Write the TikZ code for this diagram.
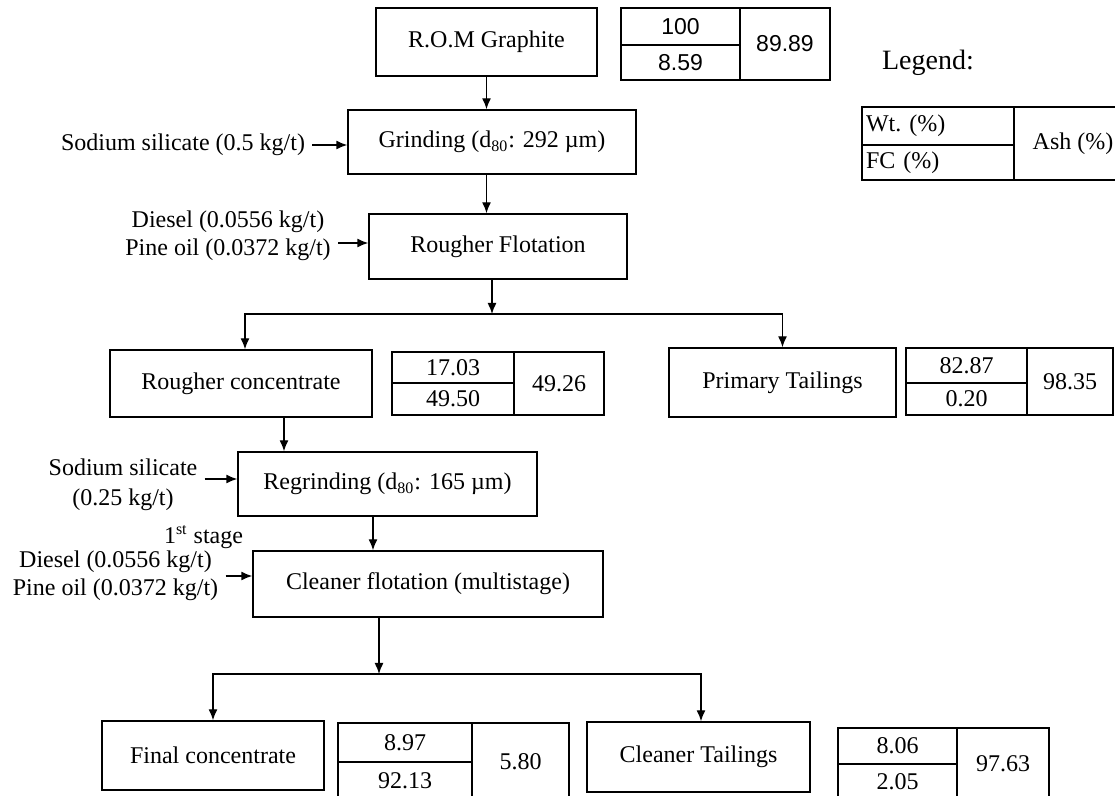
\documentclass[tikz,border=0pt]{standalone}
\usepackage{fontspec}
\setmainfont{Liberation Serif}
\newfontfamily\arialfont{Liberation Sans}
\usepackage{tikz}
\usetikzlibrary{positioning,arrows.meta}

\begin{document}
\begin{tikzpicture}[x=0.5pt, y=-0.5pt, line width=0.7pt,
  font=\fontsize{12}{14}\selectfont,
  >={Latex[length=5.5pt,width=4.5pt]},
  stepbox/.style={draw, rectangle, inner sep=0pt, align=center},
  cell/.style={draw, rectangle, inner sep=0pt, outer sep=0pt},
  numsans/.style={font=\fontsize{11.5}{14}\selectfont\arialfont}]
\useasboundingbox (0,0) rectangle (1115,796);

% Main process blocks
\node[stepbox, minimum width=110.5pt, minimum height=34pt] (rom) at (486.5,42) {R.O.M Graphite};
\node[stepbox, minimum width=144pt, minimum height=32pt] (grind) at (492,142) {Grinding (d\textsubscript{80}: 292 µm)};
\node[stepbox, minimum width=129pt, minimum height=32.5pt] (rough) at (498,246.5) {Rougher Flotation};
\node[stepbox, minimum width=131pt, minimum height=33.5pt] (rconc) at (241,383.5) {Rougher concentrate};
\node[stepbox, minimum width=113.5pt, minimum height=34.5pt] (ptail) at (782.5,382.5) {Primary Tailings};
\node[stepbox, minimum width=149.5pt, minimum height=32pt] (regr) at (387.5,484) {Regrinding (d\textsubscript{80}: 165 µm)};
\node[stepbox, minimum width=175pt, minimum height=33pt] (clean) at (428,584) {Cleaner flotation (multistage)};
\node[stepbox, minimum width=111pt, minimum height=34.5pt] (fconc) at (213,755.5) {Final concentrate};
\node[stepbox, minimum width=111.5pt, minimum height=35pt] (ctail) at (698.5,757) {Cleaner Tailings};

% Reagent feeds
\node (sil1) at (183,145) {Sodium silicate (0.5 kg/t)};
\node[align=center] (dsl1) at (228,236) {Diesel (0.0556 kg/t)\\Pine oil (0.0372 kg/t)};
\node[align=center, font=\fontsize{12}{15}\selectfont] (sil2) at (123,485) {Sodium silicate\\(0.25 kg/t)};
\node (stage) at (203.5,537) {1\textsuperscript{st} stage};
\node[align=center] (dsl2) at (115.5,576) {Diesel (0.0556 kg/t)\\Pine oil (0.0372 kg/t)};

\draw[->] (sil1.east) -- (sil1.east -| grind.west);
\draw[->] ([yshift=-3.5pt]dsl1.east) -- ([yshift=-3.5pt]dsl1.east -| rough.west);
\draw[->] ([yshift=3pt]sil2.east) -- ([yshift=3pt]sil2.east -| regr.west);
\draw[->] (dsl2.east) -- (dsl2.east -| clean.west);

% Flow connectors
\coordinate (split1) at (492,314);
\coordinate (split2) at (379,674);
\draw[->] (rom.south) -- (rom.south |- grind.north);
\draw[->] (grind.south -| rom.south) -- (rough.north -| rom.south);
\draw[->] (split1 |- rough.south) -- (split1);
\draw[->] (split1) -| ([xshift=2pt]rconc.north);
\draw[->] (split1) -| (ptail.north);
\draw[->] ([xshift=21.5pt]rconc.south) -- ([xshift=21.5pt]rconc.south |- regr.north);
\draw[->] ([xshift=-7.25pt]regr.south) -- ([xshift=-7.25pt]regr.south |- clean.north);
\draw[->] (split2 |- clean.south) -- (split2);
\draw[->] (split2) -| (fconc.north);
\draw[->] (split2) -| ([xshift=1.25pt]ctail.north);

% Data tables: Wt. / FC | Ash
\node[cell, numsans, minimum width=59.5pt, minimum height=18.5pt] (t1a) at (680.5,26.5) {100};
\node[cell, numsans, minimum width=59.5pt, minimum height=17.5pt, below=0pt of t1a] (t1b) {8.59};
\node[cell, numsans, minimum width=45pt, minimum height=36pt, anchor=north west] (t1c) at (t1a.north east) {89.89};

\node[cell, minimum width=61pt, minimum height=15.5pt] (t2a) at (453,367.5) {17.03};
\node[cell, minimum width=61pt, minimum height=16pt, below=0pt of t2a] (t2b) {49.50};
\node[cell, minimum width=45pt, minimum height=31.5pt, anchor=north west] (t2c) at (t2a.north east) {49.26};

\node[cell, minimum width=60.5pt, minimum height=17.5pt] (t3a) at (966.5,365.5) {82.87};
\node[cell, minimum width=60.5pt, minimum height=16pt, below=0pt of t3a] (t3b) {0.20};
\node[cell, minimum width=43pt, minimum height=33.5pt, anchor=north west] (t3c) at (t3a.north east) {98.35};

\node[cell, minimum width=67pt, minimum height=19.5pt] (t4a) at (405,742.5) {8.97};
\node[cell, minimum width=67pt, minimum height=19pt, below=0pt of t4a] (t4b) {92.13};
\node[cell, minimum width=48.5pt, minimum height=38.5pt, anchor=north west] (t4c) at (t4a.north east) {5.80};

\node[cell, minimum width=59.5pt, minimum height=18pt] (t5a) at (897.5,746) {8.06};
\node[cell, minimum width=59.5pt, minimum height=18pt, below=0pt of t5a] (t5b) {2.05};
\node[cell, minimum width=46pt, minimum height=36pt, anchor=north west] (t5c) at (t5a.north east) {97.63};

% Legend
\node[font=\fontsize{14}{16}\selectfont] (legend) at (928,63) {Legend:};
\node[cell, minimum width=76pt, minimum height=19pt, inner xsep=2pt, text width=72pt, align=left] (lga) at (938,126) {Wt.\ (\%)};
\node[cell, minimum width=76pt, minimum height=17.5pt, inner xsep=2pt, text width=72pt, align=left, below=0pt of lga] (lgb) {FC (\%)};
\node[cell, minimum width=59pt, minimum height=36.5pt, anchor=north west] (lgc) at (lga.north east) {Ash (\%)};

\end{tikzpicture}
\end{document}
